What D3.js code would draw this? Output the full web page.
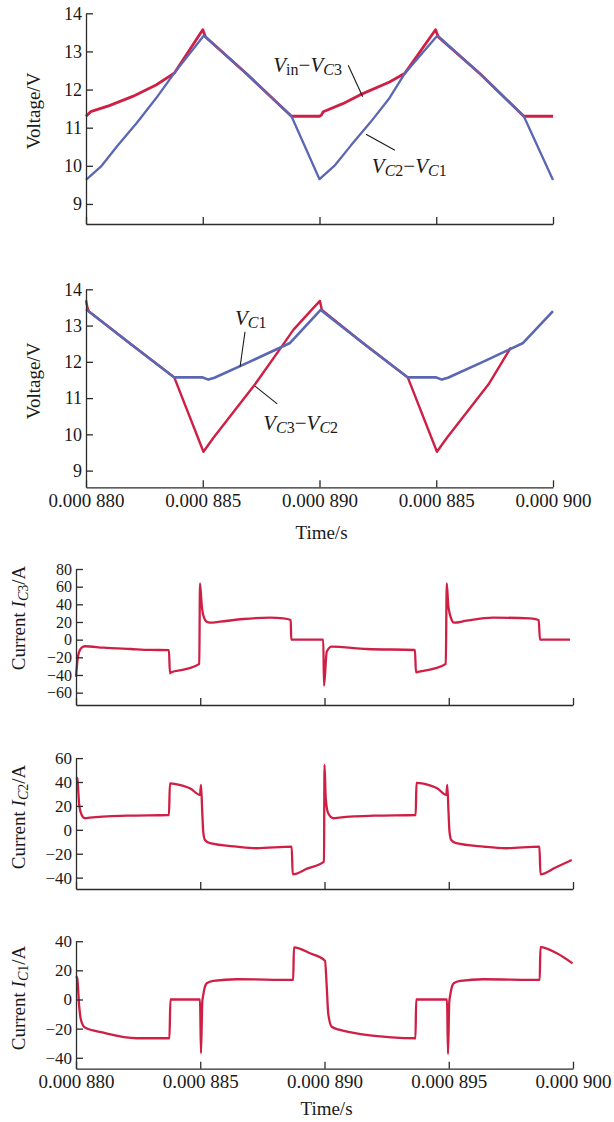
<!DOCTYPE html>
<html><head><meta charset="utf-8">
<script src="https://cdn.jsdelivr.net/npm/d3@7"></script>
<style>
body{margin:0;background:#fff}
svg{display:block}
text{font-family:"Liberation Serif","Times New Roman",serif;fill:#1a1a1a}
</style>
</head><body>
<svg id="c" width="614" height="1122"></svg>
<script>
// ---------------- DATA (time in µs, i.e. 880 = 0.000 880 s) ----------------
const timeTicks = [880, 885, 890, 895, 900];
const timeTickLabelsVoltage = ["0.000 880", "0.000 885", "0.000 890", "0.000 885", "0.000 900"];
const timeTickLabelsCurrent = ["0.000 880", "0.000 885", "0.000 890", "0.000 895", "0.000 900"];
const voltageTicks = [9, 10, 11, 12, 13, 14];
const ic3Ticks = [-60, -40, -20, 0, 20, 40, 60, 80];
const ic2Ticks = [-40, -20, 0, 20, 40, 60];
const ic1Ticks = [-40, -20, 0, 20, 40];

// Panel 1: Vin - VC3 (red), VC2 - VC1 (blue)
const vinMinusVc3 = [[880.00,11.30],[880.20,11.42],[881.00,11.58],[882.00,11.82],[883.00,12.12],[883.78,12.43],[885.00,13.57],[885.12,13.38],[886.90,12.40],[888.80,11.30],[890.00,11.30],[890.08,11.33],[890.16,11.42],[891.00,11.63],[891.73,11.86],[893.00,12.20],[893.66,12.43],[894.97,13.57],[895.09,13.38],[896.90,12.40],[898.75,11.30],[900.00,11.30]];
const vc2MinusVc1 = [[880.00,9.63],[880.67,10.00],[881.34,10.52],[882.18,11.13],[883.00,11.77],[883.78,12.43],[885.05,13.42],[886.90,12.40],[888.80,11.30],[890.00,9.65],[890.67,10.02],[891.34,10.53],[892.18,11.14],[893.00,11.78],[893.66,12.43],[895.05,13.42],[896.90,12.40],[898.75,11.30],[900.00,9.63]];

// Panel 2: VC3 - VC2 (red), VC1 (blue)
const vc3MinusVc2 = [[880.00,13.70],[880.06,13.50],[880.12,13.39],[881.90,12.50],[883.78,11.57],[885.03,9.52],[885.45,9.90],[887.24,11.38],[888.38,12.42],[888.88,12.88],[889.73,13.48],[890.02,13.68],[890.10,13.43],[891.90,12.50],[893.78,11.57],[895.03,9.52],[895.45,9.90],[897.24,11.38],[898.20,12.40]];
const vc1 = [[880.00,13.45],[881.90,12.50],[883.78,11.57],[885.00,11.57],[885.24,11.51],[885.50,11.56],[887.00,12.00],[888.74,12.52],[890.05,13.43],[891.90,12.50],[893.78,11.57],[895.00,11.57],[895.24,11.51],[895.50,11.56],[897.00,12.00],[898.72,12.52],[900.00,13.40]];

// Panel 3-5: capacitor currents
const ic3 = [[880.00,-42],[880.09,-17.4],[880.23,-9.1],[880.36,-7.5],[881.10,-9.1],[882.20,-10.6],[883.00,-11.6],[883.74,-11.8],[883.78,-38.1],[883.82,-37.0],[884.45,-33.2],[884.96,-27.5],[884.99,63.8],[885.06,39.2],[885.12,27.9],[885.26,20.3],[885.39,19.2],[885.79,20.3],[886.73,23.4],[887.81,24.9],[888.34,24.2],[888.64,22.3],[888.66,0],[889.95,0],[889.98,-52.1],[890.09,-13.6],[890.29,-7.9],[891.70,-10.6],[893.64,-11.7],[893.68,-37.0],[893.75,-36.5],[894.40,-32.8],[894.88,-27.5],[894.92,63.8],[894.98,39.2],[895.12,22.3],[895.21,19.2],[895.72,21.5],[896.79,24.9],[898.27,24.2],[898.62,22.3],[898.67,0],[899.88,0]];
const ic2 = [[880.00,44.0],[880.05,43.1],[880.13,20.8],[880.23,12.4],[880.36,9.7],[880.56,10.2],[882.04,11.8],[883.74,12.4],[883.78,38.9],[884.32,36.7],[884.60,34.5],[884.99,29.2],[885.03,37.5],[885.08,15.2],[885.12,-1.5],[885.19,-8.5],[885.39,-11.2],[886.47,-14.1],[887.27,-15.4],[888.68,-14.1],[888.72,-37.2],[889.30,-32.5],[889.98,-26.6],[890.00,54.3],[890.05,26.4],[890.15,13.8],[890.36,9.7],[890.60,10.2],[892.00,11.8],[893.67,12.4],[893.70,39.2],[894.30,36.7],[894.55,34.5],[894.90,29.2],[894.94,37.5],[894.99,15.2],[895.03,-1.5],[895.10,-8.5],[895.30,-11.2],[896.40,-14.1],[897.30,-15.4],[898.65,-14.1],[898.69,-37.2],[899.30,-31.5],[899.95,-25.2]];
const ic1 = [[880.00,16.0],[880.05,14.5],[880.13,-4.9],[880.20,-14.1],[880.36,-19.3],[881.10,-22.8],[882.44,-26.6],[883.76,-26.6],[883.80,0],[884.99,0],[885.03,-36.9],[885.08,-2.0],[885.12,3.0],[885.19,8.8],[885.26,11.1],[885.53,12.7],[886.47,13.9],[888.74,13.4],[888.77,35.8],[889.42,31.7],[890.02,26.6],[890.09,8.8],[890.15,-9.5],[890.29,-18.7],[890.62,-20.9],[891.12,-22.8],[892.70,-26.0],[893.66,-26.6],[893.69,0],[894.93,0],[894.97,-37.4],[895.02,-2.0],[895.06,3.0],[895.13,8.8],[895.20,11.1],[895.47,12.7],[896.40,13.9],[898.66,13.4],[898.69,36.0],[899.35,31.7],[899.98,24.8]];

// Text
const voltageTitle = [{t:"Voltage/V"}];
const timeTitle = [{t:"Time/s"}];
const ic3Title = [{t:"Current "},{t:"I",it:1},{t:"C",it:1,sub:1},{t:"3",sub:1},{t:"/A"}];
const ic2Title = [{t:"Current "},{t:"I",it:1},{t:"C",it:1,sub:1},{t:"2",sub:1},{t:"/A"}];
const ic1Title = [{t:"Current "},{t:"I",it:1},{t:"C",it:1,sub:1},{t:"1",sub:1},{t:"/A"}];
const labelVinVc3 = [{t:"V",it:1},{t:"in",sub:1},{t:"−"},{t:"V",it:1},{t:"C",it:1,sub:1},{t:"3",sub:1}];
const labelVc2Vc1 = [{t:"V",it:1},{t:"C",it:1,sub:1},{t:"2",sub:1},{t:"−"},{t:"V",it:1},{t:"C",it:1,sub:1},{t:"1",sub:1}];
const labelVc1 = [{t:"V",it:1},{t:"C",it:1,sub:1},{t:"1",sub:1}];
const labelVc3Vc2 = [{t:"V",it:1},{t:"C",it:1,sub:1},{t:"3",sub:1},{t:"−"},{t:"V",it:1},{t:"C",it:1,sub:1},{t:"2",sub:1}];
// annotation anchors in data coordinates: [label t, label v, leader t1, v1, leader t2, v2]
const annoP1 = [[888.02,12.47,891.23,12.64,891.85,11.81],[892.24,9.80,893.23,10.41,891.99,10.83]];
const annoP2 = [[886.38,13.02,886.81,12.83,886.60,11.87],[887.59,10.12,888.19,10.84,887.24,11.33]];

// ---------------- DRAWING ----------------
const svg = d3.select("#c");
const RED = "#cf1f45", BLUE = "#5b67b3", AXIS = "#2b2b2b";

function rich(textSel, parts, size, subSize, shift) {
  let lowered = false;
  parts.forEach(s => {
    const ts = textSel.append("tspan").text(s.t);
    if (s.it) ts.attr("font-style", "italic");
    if (s.sub) {
      ts.attr("font-size", subSize);
      if (!lowered) { ts.attr("dy", shift); lowered = true; }
    } else {
      ts.attr("font-size", size);
      if (lowered) { ts.attr("dy", -shift); lowered = false; }
    }
  });
}

function panel(cfg) {
  const x = d3.scaleLinear().domain([880, 900]).range([cfg.x0, cfg.x1]);
  const y = d3.scaleLinear().domain(cfg.domain).range([cfg.yB, cfg.yT]);
  const g = svg.append("g");

  // series
  const line = d3.line().x(d => x(d[0])).y(d => y(d[1])).curve(cfg.curve || d3.curveLinear);
  cfg.series.forEach(s => {
    g.append("path").attr("d", line(s.data)).attr("fill", "none")
      .attr("stroke", s.color).attr("stroke-width", s.w)
      .attr("stroke-linejoin", "round").attr("stroke-linecap", "butt");
  });

  // x axis
  const xa = g.append("g").attr("transform", `translate(0,${cfg.yB})`)
    .call(d3.axisBottom(x).tickValues(timeTicks).tickSize(-7).tickSizeOuter(0)
      .tickFormat((d, i) => cfg.xLabels ? cfg.xLabels[i] : ""));
  xa.selectAll("text").attr("y", 19.6).attr("dy", 0).attr("font-size", 19)
    .attr("font-family", '"Liberation Serif",serif').attr("fill", "#1a1a1a");
  // y axis
  const ya = g.append("g").attr("transform", `translate(${cfg.x0},0)`)
    .call(d3.axisLeft(y).tickValues(cfg.yTicks).tickSize(-7).tickSizeOuter(0).tickPadding(4)
      .tickFormat(d => d < 0 ? "−" + Math.abs(d) : String(d)));
  ya.selectAll("text").attr("font-size", cfg.yTickSize)
    .attr("font-family", '"Liberation Serif",serif').attr("fill", "#1a1a1a");
  [xa, ya].forEach(a => {
    a.selectAll(".domain,line").attr("stroke", AXIS).attr("stroke-width", 1.3);
  });

  // y title
  const yt = g.append("text").attr("text-anchor", "middle")
    .attr("transform", `translate(${cfg.titleX},${cfg.titleY}) rotate(-90)`);
  rich(yt, cfg.title, 19, 14, 3);

  // x title
  if (cfg.xTitleY) {
    const xt = g.append("text").attr("text-anchor", "middle")
      .attr("x", (cfg.x0 + cfg.x1) / 2 + 2).attr("y", cfg.xTitleY);
    rich(xt, timeTitle, 19, 14, 3);
  }

  // annotations
  (cfg.anno || []).forEach((a, i) => {
    g.append("line").attr("x1", x(a[2])).attr("y1", y(a[3])).attr("x2", x(a[4])).attr("y2", y(a[5]))
      .attr("stroke", "#1a1a1a").attr("stroke-width", 1.1);
    const t = g.append("text").attr("x", x(a[0])).attr("y", y(a[1]));
    rich(t, cfg.annoLabels[i], 21, 16, 3);
  });
}

panel({x0:86, x1:553, yT:13.3, yB:224, domain:[8.474, 14], yTicks:voltageTicks, yTickSize:18,
  series:[{data:vinMinusVc3, color:RED, w:2.8},{data:vc2MinusVc1, color:BLUE, w:2.3}],
  title:voltageTitle, titleX:40, titleY:111,
  anno:annoP1, annoLabels:[labelVinVc3, labelVc2Vc1]});

panel({x0:86, x1:553, yT:289.3, yB:487.3, domain:[8.54, 14], yTicks:voltageTicks, yTickSize:18,
  xLabels:timeTickLabelsVoltage, xTitleY:539,
  series:[{data:vc3MinusVc2, color:RED, w:2.4},{data:vc1, color:BLUE, w:2.6}],
  title:voltageTitle, titleX:40, titleY:381,
  anno:annoP2, annoLabels:[labelVc1, labelVc3Vc2]});

panel({x0:76, x1:573, yT:569, yB:705, domain:[-74, 80], yTicks:ic3Ticks, yTickSize:16,
  curve:d3.curveMonotoneX,
  series:[{data:ic3, color:RED, w:2.3}],
  title:ic3Title, titleX:25, titleY:618});

panel({x0:76, x1:573, yT:758.1, yB:889, domain:[-49.5, 60], yTicks:ic2Ticks, yTickSize:17,
  curve:d3.curveMonotoneX,
  series:[{data:ic2, color:RED, w:2.3}],
  title:ic2Title, titleX:25, titleY:817});

panel({x0:76, x1:573, yT:941.2, yB:1068.7, domain:[-47.5, 40], yTicks:ic1Ticks, yTickSize:17,
  curve:d3.curveMonotoneX,
  xLabels:timeTickLabelsCurrent, xTitleY:1115,
  series:[{data:ic1, color:RED, w:2.3}],
  title:ic1Title, titleX:25, titleY:998});
</script>
</body></html>
